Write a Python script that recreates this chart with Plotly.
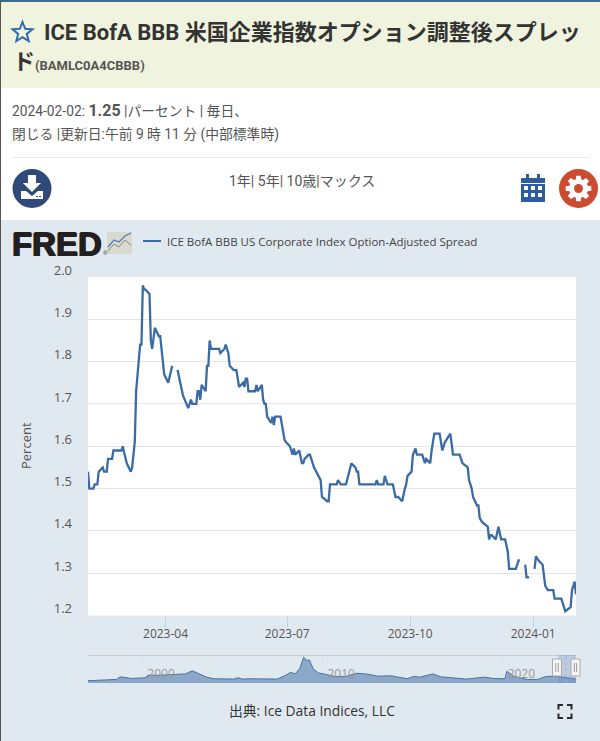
# FRED page: ICE BofA BBB OAS with navigator strip underneath
import math
import plotly.graph_objects as go

W, H = 600, 741

# main series (None = holiday gap)
dates = [
    "2023-02-02", "2023-02-03", "2023-02-06", "2023-02-07", "2023-02-09", "2023-02-10", "2023-02-13", "2023-02-14",
    "2023-02-16", "2023-02-17", "2023-02-20", "2023-02-21", "2023-02-27", "2023-02-28", "2023-03-01", "2023-03-03",
    "2023-03-06", "2023-03-07", "2023-03-09", "2023-03-10", "2023-03-13", "2023-03-14", "2023-03-15", "2023-03-16",
    "2023-03-17", "2023-03-20", "2023-03-21", "2023-03-22", "2023-03-24", "2023-03-27", "2023-03-28", "2023-03-31",
    "2023-04-03", "2023-04-06", "2023-04-07", "2023-04-10", "2023-04-11", "2023-04-12", "2023-04-14", "2023-04-17",
    "2023-04-18", "2023-04-20", "2023-04-21", "2023-04-24", "2023-04-25", "2023-04-26", "2023-04-27", "2023-04-28",
    "2023-05-01", "2023-05-02", "2023-05-03", "2023-05-04", "2023-05-05", "2023-05-11", "2023-05-12", "2023-05-15",
    "2023-05-16", "2023-05-18", "2023-05-19", "2023-05-22", "2023-05-24", "2023-05-26", "2023-05-29", "2023-05-30",
    "2023-05-31", "2023-06-01", "2023-06-02", "2023-06-07", "2023-06-08", "2023-06-09", "2023-06-12", "2023-06-13",
    "2023-06-14", "2023-06-15", "2023-06-16", "2023-06-19", "2023-06-20", "2023-06-21", "2023-06-22", "2023-06-26",
    "2023-06-27", "2023-06-29", "2023-06-30", "2023-07-03", "2023-07-05", "2023-07-06", "2023-07-07", "2023-07-10",
    "2023-07-12", "2023-07-13", "2023-07-14", "2023-07-17", "2023-07-18", "2023-07-21", "2023-07-26", "2023-07-27",
    "2023-07-31", "2023-08-01", "2023-08-02", "2023-08-07", "2023-08-08", "2023-08-10", "2023-08-14", "2023-08-16",
    "2023-08-18", "2023-08-21", "2023-08-22", "2023-08-23", "2023-08-24", "2023-09-05", "2023-09-06", "2023-09-07",
    "2023-09-11", "2023-09-12", "2023-09-14", "2023-09-18", "2023-09-20", "2023-09-22", "2023-09-25", "2023-09-27",
    "2023-09-28", "2023-09-29", "2023-10-02", "2023-10-03", "2023-10-05", "2023-10-06", "2023-10-10", "2023-10-12",
    "2023-10-13", "2023-10-16", "2023-10-17", "2023-10-19", "2023-10-23", "2023-10-25", "2023-10-27", "2023-10-31",
    "2023-11-02", "2023-11-07", "2023-11-09", "2023-11-13", "2023-11-14", "2023-11-16", "2023-11-17", "2023-11-20",
    "2023-11-21", "2023-11-22", "2023-11-24", "2023-11-28", "2023-11-29", "2023-11-30", "2023-12-01", "2023-12-04",
    "2023-12-06", "2023-12-08", "2023-12-11", "2023-12-13", "2023-12-14", "2023-12-19", "2023-12-20", "2023-12-21",
    "2023-12-22", "2023-12-25", "2023-12-26", "2023-12-27", "2023-12-29", "2024-01-01", "2024-01-02", "2024-01-03",
    "2024-01-04", "2024-01-05", "2024-01-08", "2024-01-10", "2024-01-12", "2024-01-16", "2024-01-17", "2024-01-22",
    "2024-01-25", "2024-01-29", "2024-01-30", "2024-01-31", "2024-02-01", "2024-02-02",
]
values = [
    1.54, 1.50, 1.50, 1.51, 1.51, 1.54, 1.55, 1.54,
    1.54, 1.57, 1.57, 1.59, 1.59, 1.60, 1.585, 1.56,
    1.54, 1.55, 1.61, 1.73, 1.84, 1.84, 1.98, 1.97,
    1.97, 1.96, 1.85, 1.83, 1.88, 1.86, 1.86, 1.77,
    1.75, 1.79, None, 1.78, 1.76, 1.75, 1.72, 1.70,
    1.69, 1.71, 1.70, 1.70, 1.73, 1.73, 1.71, 1.745,
    1.73, 1.79, 1.79, 1.85, 1.83, 1.83, 1.82, 1.83,
    1.84, 1.82, 1.79, 1.78, 1.78, 1.74, 1.75, 1.74,
    1.76, 1.76, 1.73, 1.73, 1.745, 1.73, 1.745, 1.71,
    1.70, 1.70, 1.67, 1.655, 1.67, 1.65, 1.67, 1.67,
    1.65, 1.615, 1.61, 1.60, 1.58, 1.595, 1.58, 1.59,
    1.56, 1.56, 1.57, 1.58, 1.58, 1.55, 1.52, 1.48,
    1.47, 1.47, 1.51, 1.51, 1.52, 1.51, 1.51, 1.535,
    1.56, 1.55, 1.54, 1.54, 1.51, 1.51, 1.52, 1.51,
    1.51, 1.53, 1.51, 1.51, 1.48, 1.48, 1.47, 1.50,
    1.51, 1.53, 1.54, 1.58, 1.595, 1.58, 1.58, 1.56,
    1.57, 1.56, 1.59, 1.63, 1.63, 1.59, 1.61, 1.63,
    1.58, 1.58, 1.56, 1.55, 1.52, 1.50, 1.48, 1.46,
    1.46, 1.43, 1.42, 1.41, 1.38, 1.39, 1.39, 1.38,
    1.41, 1.38, 1.38, 1.35, 1.31, 1.31, 1.32, 1.33,
    1.33, None, 1.32, 1.29, 1.29, None, 1.31, 1.34,
    1.335, 1.33, 1.32, 1.27, 1.26, 1.26, 1.24, 1.24,
    1.21, 1.22, 1.26, 1.27, 1.28, 1.25,
]

# full history for the navigator, rougher read
nav_dates = [
    "1996-12-31", "1997-11-01", "1998-08-01", "1998-10-15", "1999-02-01", "1999-06-01", "2000-03-01", "2000-05-01",
    "2001-01-01", "2001-09-01", "2002-06-01", "2002-10-15", "2003-03-01", "2003-08-01", "2004-01-01", "2005-02-01",
    "2005-05-01", "2005-08-01", "2006-01-01", "2007-07-01", "2007-12-15", "2008-04-01", "2008-07-01", "2008-10-01",
    "2008-12-20", "2009-02-25", "2009-04-15", "2009-07-01", "2009-10-15", "2010-04-15", "2010-10-01", "2011-04-15",
    "2011-12-01", "2012-07-15", "2013-02-01", "2013-11-01", "2014-09-15", "2015-02-01", "2015-06-01", "2016-02-25",
    "2016-08-01", "2018-01-01", "2019-01-01", "2019-07-01", "2020-02-20", "2020-04-01", "2020-09-01", "2021-05-15",
    "2021-12-15", "2022-06-01", "2022-12-01", "2023-03-15", "2023-08-15", "2024-02-02",
]
nav_values = [
    0.7, 0.8, 1.1, 1.9, 1.6, 1.4, 1.6, 2.4,
    2.4, 2.5, 2.8, 3.75, 2.8, 1.8, 1.3, 1.2,
    1.6, 1.2, 1.3, 1.2, 2.3, 3.3, 2.8, 4.4,
    7.9, 6.9, 7.1, 4.4, 3.1, 2.5, 2.0, 2.0,
    3.0, 2.7, 2.1, 2.2, 1.3, 2.0, 1.8, 2.8,
    1.9, 1.2, 1.8, 1.4, 1.3, 3.6, 2.0, 1.1,
    1.1, 2.0, 2.1, 1.9, 1.6, 1.25,
]

series_name = "ICE BofA BBB US Corporate Index Option-Adjusted Spread"
y_ticks = [1.2, 1.3, 1.4, 1.5, 1.6, 1.7, 1.8, 1.9, 2.0]

BLUE = "#3A6BA5"
PANEL = "#E1E9F0"
GREY_TEXT = "#555555"
UI = "Roboto, 'Noto Sans CJK JP', sans-serif"
CHART = "'Open Sans', 'Noto Sans CJK JP', sans-serif"
LOGO = "'Liberation Sans', Arial, sans-serif"


def X(px):
    return px / W


def Y(py):
    return 1 - py / H


def rect(x0, y0, x1, y1, fill, line=None, lw=1, layer="below"):
    return dict(type="rect", xref="paper", yref="paper", x0=X(x0), x1=X(x1), y0=Y(y0), y1=Y(y1),
                fillcolor=fill, line=dict(color=line or fill, width=lw if line else 0), layer=layer)


def circle(cx, cy, r, fill):
    return dict(type="circle", xref="paper", yref="paper", x0=X(cx - r), x1=X(cx + r), y0=Y(cy - r), y1=Y(cy + r),
                fillcolor=fill, line=dict(width=0), layer="above")


def path(pts, fill=None, line=None, lw=1, closed=True):
    d = "M" + " L".join(f"{X(a):.5f},{Y(b):.5f}" for a, b in pts) + (" Z" if closed else "")
    return dict(type="path", xref="paper", yref="paper", path=d, fillcolor=fill or "rgba(0,0,0,0)",
                line=dict(color=line or "rgba(0,0,0,0)", width=lw), layer="above")


def text(x, y, s, size, color=GREY_TEXT, family=UI, anchor="left", shadow=None, **kw):
    font = dict(size=size, color=color, family=family)
    if shadow:
        font["shadow"] = shadow
    return dict(xref="paper", yref="paper", x=X(x), y=Y(y), text=s, showarrow=False, xanchor=anchor, yanchor="middle",
                font=font, **kw)


fig = go.Figure()
fig.add_trace(go.Scatter(x=dates, y=values, mode="lines", name=series_name, connectgaps=False,
                         line=dict(color=BLUE, width=2.3), xaxis="x", yaxis="y"))
fig.add_trace(go.Scatter(x=nav_dates, y=nav_values, mode="lines", fill="tozeroy", fillcolor="rgba(69,114,167,0.55)",
                         line=dict(color="#4572A7", width=1), xaxis="x2", yaxis="y2"))

shapes = [
    rect(0, 0, W, 220, "#FFFFFF"),
    rect(0, 2, W, 88, "#F0F3DE"),
    rect(0, 0, W, 2, "#3F6B8F"),
    rect(12, 157, 590, 158, "#E3EBF3"),
    rect(88, 277, 576, 615.5, "#FFFFFF"),
    rect(0, 0, 1, H, "#555555"),
    rect(88, 655, 576, 656, "#CCCCCC"),
    rect(143, 240, 161, 242, BLUE),
]

# star
star = []
for i in range(10):
    r = 10.5 if i % 2 == 0 else 4.6
    a = -math.pi / 2 + i * math.pi / 5
    star.append((22.5 + r * math.cos(a), 32.5 + r * math.sin(a)))
shapes.append(path(star, line="#2F6BAD", lw=2))

# download button
shapes.append(circle(32, 188.5, 19.5, "#2F4A78"))
shapes.append(path([(28, 175), (36, 175), (36, 183), (41, 183), (32, 192), (23, 183), (28, 183)], fill="#FFFFFF"))
shapes.append(path([(21, 191), (26, 191), (32, 196), (38, 191), (43, 191), (43, 199), (21, 199)], fill="#FFFFFF"))
shapes.append(rect(36, 196, 38, 197, "#2F4A78", layer="above"))
shapes.append(rect(39, 196, 41, 197, "#2F4A78", layer="above"))

# calendar
CAL = "#2E5C9E"
shapes.append(rect(521, 178, 545, 202, CAL, layer="above"))
shapes.append(rect(526, 174, 529, 180, CAL, layer="above"))
shapes.append(rect(537, 174, 540, 180, CAL, layer="above"))
shapes.append(rect(521, 183, 545, 184, "#FFFFFF", layer="above"))
for cx in (524, 531, 538):
    for cy in (186, 193):
        shapes.append(rect(cx, cy, cx + 4, cy + 4, "#FFFFFF", layer="above"))

# gear button
shapes.append(circle(578.5, 188.5, 19.5, "#CB4C30"))
gear = []
for i in range(8):
    a = i * math.pi / 4
    for da, r in ((-0.30, 9.5), (-0.17, 13), (0.17, 13), (0.30, 9.5)):
        gear.append((578.5 + r * math.cos(a + da), 188.5 + r * math.sin(a + da)))
shapes.append(path(gear, fill="#FFFFFF"))
shapes.append(circle(578.5, 188.5, 4.5, "#CB4C30"))

# small chart badge beside the logo
shapes.append(rect(107, 232, 132, 254, "#DAD9D0", layer="above"))
shapes.append(path([(108, 251), (114, 244), (119, 247), (125, 240), (131, 245)], line="#8A8578", lw=1, closed=False))
shapes.append(path([(108, 247), (114, 240), (119, 242), (125, 236), (131, 233)], line="#4A7DB5", lw=1.2, closed=False))

# navigator window
shapes.append(dict(type="rect", xref="x2", yref="paper", x0="2023-02-02", x1="2024-02-02", y0=Y(683), y1=Y(655),
                   fillcolor="rgba(102,133,194,0.3)", line=dict(width=0), layer="above"))
shapes.append(dict(type="line", xref="paper", yref="paper", x0=X(566), x1=X(566), y0=Y(683), y1=Y(655),
                   line=dict(color="#9FB4CC", width=1, dash="dot"), layer="above"))
for hx in (557, 575.5):
    shapes.append(rect(hx - 4.5, 659, hx + 4.5, 676, "#F4F4F4", line="#AAAAAA", layer="above"))
    shapes.append(rect(hx - 1.6, 663, hx - 0.8, 672, "#888888", layer="above"))
    shapes.append(rect(hx + 0.8, 663, hx + 1.6, 672, "#888888", layer="above"))

# fullscreen corners
for sx, sy in ((-1, -1), (1, -1), (-1, 1), (1, 1)):
    cx, cy = 565 + sx * 6.5, 711.5 + sy * 6.5
    shapes.append(path([(cx - sx * 4.5, cy), (cx, cy), (cx, cy - sy * 4.5)], line="#2B2B2B", lw=2, closed=False))

annotations = [
    text(42, 33, "<b>ICE BofA BBB 米国企業指数オプション調整後スプレッ</b>", 22, "#333333"),
    text(11, 61, "<b>ド</b>", 22, "#333333"),
    text(33, 65, "<b>(BAMLC0A4CBBB)</b>", 13, "#555555"),
    text(10, 111, "2024-02-02: <b><span style='font-size:16px'>1.25</span></b> |パーセント | 毎日、", 13.8),
    text(10, 134, "閉じる |更新日:午前 9 時 11 分 (中部標準時)", 13.8),
    text(302, 181, "1年| 5年| 10歳|マックス", 14, anchor="center"),
    text(10, 244, "<b>FRED</b>", 33, "#231F20", family=LOGO, height=26,
         shadow="0.8px 0 0 #231F20, -0.8px 0 0 #231F20, 0 0.5px 0 #231F20, 0 -0.5px 0 #231F20"),
    text(101, 253, "®", 6, "#231F20", family=LOGO),
    text(165, 241, series_name, 11.5, "#444444", family=CHART),
    text(312, 710, "出典: Ice Data Indices, LLC", 13.8, "#333333", family=CHART, anchor="center"),
    text(26, 446, "Percent", 13, "#555555", family=CHART, anchor="center", textangle=-90),
]

fig.update_layout(
    width=W, height=H, margin=dict(l=0, r=0, t=0, b=0), autosize=False,
    paper_bgcolor=PANEL, plot_bgcolor="rgba(0,0,0,0)", showlegend=False,
    shapes=shapes, annotations=annotations,
    xaxis=dict(domain=[X(88), X(576)], anchor="y", type="date", range=["2023-02-02", "2024-02-02"], automargin=False,
               tick0="2023-01-01", dtick="M3", tickformat="%Y-%m", showgrid=False, zeroline=False, showline=False,
               ticks="outside", ticklen=10, tickcolor="#C0D0E0", tickwidth=1, ticklabelstandoff=-3,
               tickfont=dict(size=12, color=GREY_TEXT, family=CHART)),
    yaxis=dict(domain=[Y(615.5), Y(277)], anchor="x", range=[1.2, 2.0], tickvals=y_ticks, automargin=False,
               ticktext=[f"{v:.1f}" for v in y_ticks], gridcolor="#E6E6E6", gridwidth=1, zeroline=False, showline=False,
               ticklabelstandoff=15, ticklabelshift=-7, tickfont=dict(size=13, color=GREY_TEXT, family=CHART)),
    xaxis2=dict(domain=[X(88), X(576)], anchor="y2", type="date", range=["1996-12-31", "2024-02-02"], automargin=False,
                tick0="2000-01-01", dtick="M120", tickformat="%Y", showgrid=True, gridcolor="#D5DDE5", griddash="dot",
                zeroline=False, showline=False, ticks="", ticklabelposition="inside", ticklabelshift=19,
                tickfont=dict(size=12, color="#999999", family=CHART)),
    yaxis2=dict(domain=[Y(683), Y(655)], anchor="x2", range=[0, 8.6], showgrid=False, zeroline=False, automargin=False,
                showticklabels=False, ticks="", showline=False),
)

fig.write_html("out.html", config=dict(displayModeBar=False), post_script="document.body.style.margin='0';")
